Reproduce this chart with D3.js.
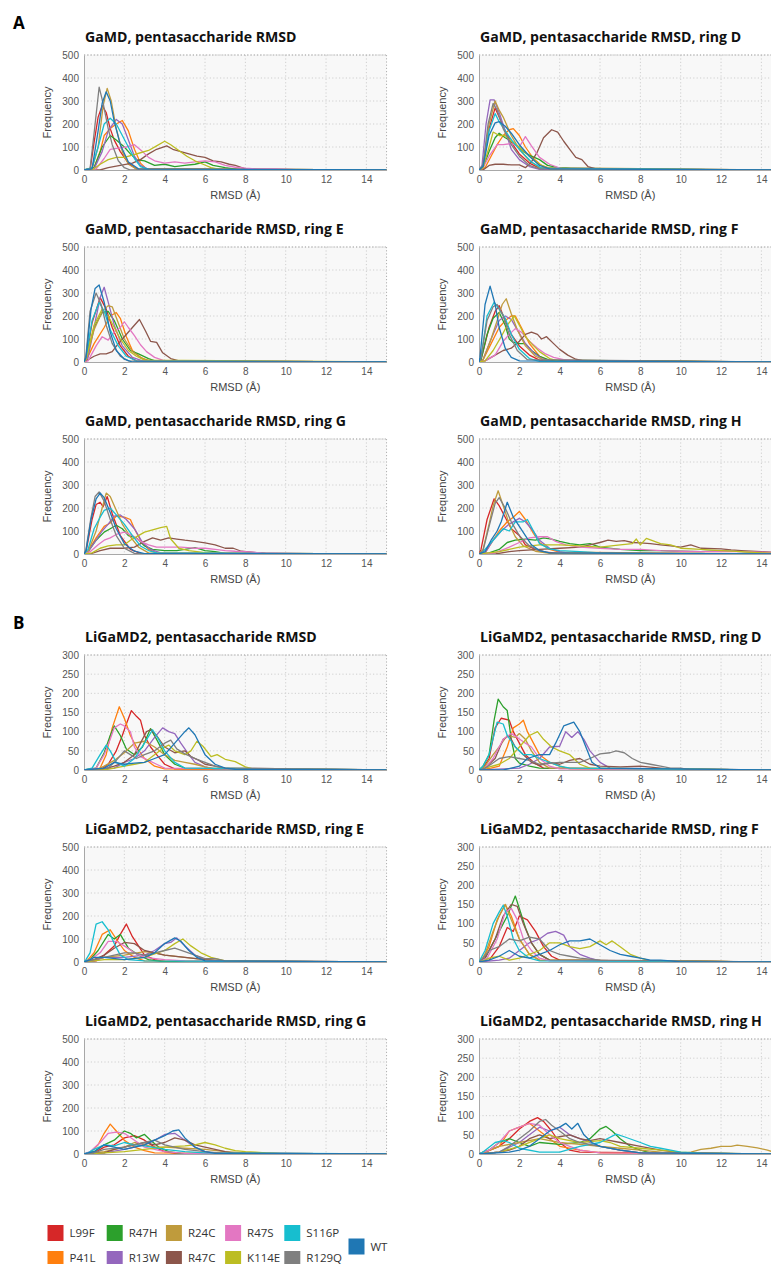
<!DOCTYPE html>
<html><head><meta charset="utf-8">
<script src="https://cdn.jsdelivr.net/npm/d3@7"></script>
<style>
body{margin:0;background:#fff;overflow:hidden}
svg text{font-family:"Liberation Sans",Arial,sans-serif}
</style></head>
<body><svg id="c" width="771" height="1264"></svg>
<script>
// ---------- DATA ----------
const seriesNames = ["L99F","P41L","R47H","R13W","R24C","R47C","R47S","K114E","S116P","R129Q","WT"];
const seriesColors = ["#d62728","#ff7f0e","#2ca02c","#9467bd","#bf9b3c","#8c564b","#e377c2","#bcbd22","#17becf","#7f7f7f","#1f77b4"];
const xTicks = [0,2,4,6,8,10,12,14];
const yTicks500 = [0,100,200,300,400,500];
const yTicks300 = [0,50,100,150,200,250,300];
const panelTitles = [
 "GaMD, pentasaccharide RMSD","GaMD, pentasaccharide RMSD, ring D",
 "GaMD, pentasaccharide RMSD, ring E","GaMD, pentasaccharide RMSD, ring F",
 "GaMD, pentasaccharide RMSD, ring G","GaMD, pentasaccharide RMSD, ring H",
 "LiGaMD2, pentasaccharide RMSD","LiGaMD2, pentasaccharide RMSD, ring D",
 "LiGaMD2, pentasaccharide RMSD, ring E","LiGaMD2, pentasaccharide RMSD, ring F",
 "LiGaMD2, pentasaccharide RMSD, ring G","LiGaMD2, pentasaccharide RMSD, ring H"];
const panelYMax = [500,500,500,500,500,500,300,300,500,300,500,300];

// each series: flat list of RMSD, frequency pairs
const gamdAll = {
 L99F:[0.3,0,0.5,120,0.7,230,0.9,280,1.1,250,1.3,180,1.5,130,1.8,80,2.2,30,2.6,5],
 P41L:[0.5,10,0.8,80,1.0,150,1.3,180,1.6,200,1.9,215,2.2,170,2.5,90,2.8,30,3.1,5],
 R47H:[0.5,10,0.9,100,1.3,150,1.6,130,2.0,100,2.3,70,2.6,45,3.0,40,3.5,20,4.0,25,4.5,15,5.0,20,5.5,25,6.0,35,6.4,20,7.0,10,7.6,3],
 R13W:[0.5,5,0.9,80,1.2,170,1.6,220,1.9,200,2.2,130,2.5,60,2.8,20,3.2,3],
 R24C:[0.4,5,0.7,100,0.95,280,1.15,355,1.35,300,1.6,180,1.9,80,2.2,25,2.6,5],
 R47C:[0.8,0,1.2,10,1.8,20,2.4,30,2.8,45,3.2,70,3.6,90,4.1,105,4.4,90,4.8,80,5.2,70,5.6,60,6.0,55,6.4,40,6.8,35,7.2,25,7.5,20,8.0,5,8.6,2],
 R47S:[0.6,5,1.0,50,1.3,90,1.7,95,2.1,100,2.5,110,2.9,80,3.2,55,3.5,40,4.0,30,4.5,35,5.0,30,5.5,35,6.0,40,6.5,35,7.0,20,7.5,12,8.0,8,8.5,5,9.5,5,10.5,2],
 K114E:[0.4,0,0.8,25,1.2,45,1.6,55,2.0,55,2.4,65,2.8,75,3.2,85,3.6,105,4.0,125,4.3,110,4.7,85,5.1,60,5.5,40,5.9,25,6.3,10,6.8,2],
 S116P:[0.4,10,0.7,100,1.0,200,1.3,225,1.6,200,1.9,150,2.2,100,2.5,50,2.8,15,3.2,3],
 R129Q:[0.3,5,0.5,160,0.75,360,0.95,290,1.2,180,1.4,110,1.7,40,2.0,10,2.3,0],
 WT:[0.4,5,0.7,170,0.9,290,1.1,340,1.3,300,1.5,210,1.8,110,2.2,35,2.7,5]
};
const gamdD = {
 L99F:[0.2,20,0.5,180,0.8,270,1.0,230,1.3,170,1.6,120,2.0,70,2.5,30,3.0,8],
 P41L:[0.3,10,0.6,60,0.9,110,1.2,150,1.5,175,1.7,180,2.0,150,2.3,100,2.7,50,3.1,20,3.6,5],
 R47H:[0.2,10,0.5,80,0.8,140,1.0,160,1.3,140,1.7,120,2.2,80,2.6,60,3.0,45,3.4,20,3.9,10,4.3,10,4.8,2],
 R13W:[0.15,20,0.35,200,0.55,305,0.75,305,1.0,250,1.3,170,1.6,90,2.0,45,2.5,15,3.0,3],
 R24C:[0.2,20,0.5,200,0.8,300,1.0,260,1.2,230,1.6,150,2.0,90,2.5,40,3.0,10],
 R47C:[0.2,0,0.5,20,0.8,25,1.2,25,1.6,22,2.0,22,2.3,10,2.6,35,2.9,80,3.2,140,3.6,175,3.9,165,4.2,125,4.5,90,4.8,55,5.1,45,5.4,15,5.8,5,6.1,0],
 R47S:[0.2,10,0.5,60,0.9,110,1.2,110,1.6,115,2.0,100,2.3,145,2.6,105,3.0,55,3.5,25,4.0,8,4.5,0],
 K114E:[0.2,10,0.5,100,0.7,165,1.0,150,1.3,150,1.6,125,2.0,100,2.5,60,3.0,25,3.5,5],
 S116P:[0.2,20,0.5,170,0.8,245,1.0,210,1.3,170,1.7,120,2.1,80,2.6,35,3.1,8],
 R129Q:[0.2,20,0.45,200,0.7,290,0.9,260,1.2,180,1.6,110,2.0,60,2.5,20,3.0,5],
 WT:[0.2,15,0.5,150,0.8,205,1.0,210,1.3,190,1.6,160,2.0,110,2.5,60,3.0,20,3.5,5]
};
const gamdE = {
 L99F:[0.1,10,0.4,170,0.8,280,1.1,230,1.4,150,1.8,70,2.2,25,2.6,5],
 P41L:[0.1,5,0.5,80,1.0,150,1.3,200,1.6,215,1.8,190,2.1,110,2.4,50,2.8,20,3.2,5],
 R47H:[0.1,10,0.5,150,0.9,215,1.2,220,1.5,180,1.9,100,2.3,50,2.7,35,3.2,15,3.6,3],
 R13W:[0.2,20,0.5,150,0.8,280,1.0,325,1.2,260,1.5,160,1.9,70,2.4,20,2.9,5],
 R24C:[0.1,10,0.5,140,0.9,220,1.2,245,1.4,240,1.7,170,2.0,100,2.4,45,2.9,15,3.4,3],
 R47C:[0.1,5,0.5,25,0.8,35,1.1,35,1.4,45,1.7,80,2.0,110,2.4,150,2.75,185,3.05,135,3.3,90,3.6,85,3.9,40,4.3,15,4.8,3],
 R47S:[0.2,5,0.6,70,0.9,110,1.2,95,1.5,130,1.8,150,2.0,175,2.2,150,2.5,115,2.8,75,3.1,45,3.5,20,4.0,5],
 K114E:[0.1,10,0.5,160,0.9,230,1.2,200,1.5,150,1.8,100,2.2,50,2.6,25,3.0,8],
 S116P:[0.1,20,0.4,180,0.75,260,1.0,220,1.3,140,1.7,70,2.1,25,2.6,5],
 R129Q:[0.1,30,0.3,220,0.6,300,0.85,250,1.1,160,1.4,80,1.8,25,2.2,5],
 WT:[0.1,20,0.35,230,0.55,320,0.75,335,1.0,260,1.3,130,1.6,50,2.0,12,2.4,0]
};
const gamdF = {
 L99F:[0.1,10,0.5,150,0.8,220,1.0,245,1.3,180,1.6,120,2.0,70,2.5,30,3.0,8],
 P41L:[0.2,10,0.6,80,1.0,150,1.3,180,1.6,200,1.8,200,2.1,150,2.5,80,3.0,25,3.5,5],
 R47H:[0.1,10,0.4,120,0.7,190,1.0,215,1.3,160,1.5,100,1.7,85,2.0,80,2.3,80,2.6,50,3.0,25,3.5,8],
 R13W:[0.2,10,0.6,100,1.0,180,1.3,200,1.6,185,1.9,140,2.3,80,2.7,40,3.1,15,3.6,3],
 R24C:[0.2,10,0.6,100,0.9,180,1.15,250,1.35,275,1.6,210,1.9,140,2.3,70,2.8,25,3.3,5],
 R47C:[0.3,5,0.8,30,1.2,50,1.6,60,2.0,90,2.3,120,2.6,130,2.9,120,3.1,100,3.35,110,3.7,80,4.0,55,4.4,30,4.8,12,5.3,3],
 R47S:[0.3,5,0.8,30,1.2,90,1.5,120,1.8,145,2.1,130,2.5,90,2.9,60,3.3,35,3.7,20,4.2,10,4.8,5,5.5,2],
 K114E:[0.3,5,0.7,50,1.1,110,1.4,160,1.75,200,2.0,160,2.3,110,2.6,80,3.0,45,3.5,15,4.0,3],
 S116P:[0.1,20,0.4,200,0.75,260,1.0,230,1.3,190,1.6,120,2.0,55,2.5,15,3.0,3],
 R129Q:[0.1,20,0.4,180,0.7,240,0.9,250,1.2,200,1.5,120,1.9,50,2.4,10],
 WT:[0.05,20,0.3,250,0.55,330,0.8,250,1.0,150,1.3,60,1.6,20,2.0,5]
};
const gamdG = {
 L99F:[0.1,10,0.4,150,0.6,215,0.8,225,0.95,205,1.15,250,1.4,175,1.8,80,2.3,20,2.8,3],
 P41L:[0.2,10,0.6,70,1.0,120,1.3,135,1.6,165,2.0,160,2.3,150,2.5,110,2.8,60,3.2,20,3.6,5],
 R47H:[0.2,10,0.6,60,1.0,95,1.3,110,1.6,125,1.9,110,2.2,80,2.6,70,3.0,35,3.4,20,4.0,15,4.6,15,5.0,20,5.5,28,6.0,15,6.5,10,7.0,3],
 R13W:[0.2,10,0.6,60,0.9,100,1.2,130,1.5,165,1.8,170,2.1,150,2.5,110,2.9,50,3.3,20,3.8,5],
 R24C:[0.2,10,0.6,100,0.9,200,1.1,265,1.3,250,1.6,190,1.9,130,2.3,75,2.7,30,3.2,5],
 R47C:[0.3,0,0.8,15,1.3,25,2.0,25,2.5,30,3.0,55,3.4,70,3.8,60,4.2,70,4.6,65,5.0,60,5.5,55,6.0,48,6.5,40,7.0,25,7.4,25,7.8,12,8.3,8,9.0,3],
 R47S:[0.3,10,0.7,40,1.0,60,1.3,70,1.6,85,2.0,95,2.4,80,2.8,55,3.2,40,3.6,30,4.2,30,4.8,30,5.5,25,6.0,25,6.5,20,7.0,15,7.5,12,8.0,10,8.8,5,10.0,3,11.0,2],
 K114E:[0.4,5,0.8,25,1.2,35,1.6,40,2.0,40,2.3,60,2.7,80,3.0,95,3.4,105,3.8,115,4.1,120,4.3,65,4.7,25,5.2,15,5.8,8,6.3,2],
 S116P:[0.2,20,0.5,110,0.8,160,1.0,190,1.3,200,1.6,170,2.0,130,2.4,80,2.8,35,3.2,15,3.6,5],
 R129Q:[0.1,20,0.35,160,0.55,250,0.75,270,1.0,230,1.3,150,1.6,80,2.0,25,2.5,3],
 WT:[0.1,15,0.35,150,0.6,240,0.8,265,1.0,245,1.3,180,1.6,110,2.0,45,2.5,12,3.0,2]
};
const gamdH = {
 L99F:[0.1,20,0.4,150,0.75,240,1.0,210,1.3,160,1.6,110,2.0,80,2.3,40,2.8,20,3.3,8,4.0,3],
 P41L:[0.3,5,0.7,60,1.0,100,1.4,140,1.7,160,2.0,185,2.3,150,2.7,90,3.0,50,3.5,20,4.0,8],
 R47H:[0.5,5,1.0,20,1.4,50,1.8,60,2.3,65,2.8,60,3.2,70,3.6,65,4.0,55,4.5,45,5.0,40,5.5,45,6.0,30,7.0,20,8.0,15,9.0,15,10.0,12,11.0,10,12.0,15,13.0,10,14.0,5,15,2],
 R13W:[0.3,5,0.7,60,1.1,100,1.5,130,2.0,155,2.3,140,2.6,110,3.0,60,3.5,25,4.0,10,4.5,3],
 R24C:[0.2,20,0.5,130,0.7,210,0.95,275,1.2,210,1.5,130,1.8,75,2.2,35,2.8,12,3.5,3],
 R47C:[0.8,0,1.5,10,2.0,15,3.0,20,4.0,25,5.0,30,5.5,40,6.0,50,6.4,60,6.8,55,7.2,58,7.6,50,8.0,48,8.5,45,9.0,40,9.5,35,10.0,30,10.5,40,11.0,25,12.0,22,12.5,18,13.0,15,14.0,10,15,5],
 R47S:[0.8,5,1.5,30,2.0,50,2.5,70,3.0,75,3.4,75,3.8,55,4.3,40,5.0,30,6.0,25,7.0,20,8.0,20,9.0,15,10.0,12,11.0,10,12.0,12,13.0,10,14.0,8,15,5],
 K114E:[0.5,5,1.0,10,2.0,30,3.0,40,4.0,40,5.0,35,6.0,30,7.0,40,7.6,45,7.8,65,8.0,40,8.3,68,8.7,55,9.0,45,9.5,40,10.0,25,11.0,20,12.0,15,13.0,10,14.0,5,15,3],
 S116P:[0.2,10,0.6,50,1.0,90,1.2,110,1.5,100,1.8,140,2.2,140,2.4,150,2.7,100,3.0,45,3.5,22,4.0,15,5.0,10,6.0,5,7.0,3],
 R129Q:[0.2,15,0.5,120,0.8,220,1.0,245,1.3,200,1.6,140,2.0,80,2.5,35,3.0,15,3.5,5],
 WT:[0.3,10,0.6,60,0.9,100,1.1,140,1.4,225,1.7,160,2.0,120,2.3,80,2.6,40,3.0,15,3.5,5]
};
const ligAll = {
 L99F:[0.8,0,1.2,15,1.6,50,1.9,90,2.1,120,2.35,155,2.6,140,2.8,130,3.0,90,3.3,60,3.6,40,4.0,15,4.5,3],
 P41L:[0.8,5,1.1,40,1.4,110,1.75,165,2.0,135,2.3,90,2.6,60,3.0,30,3.5,10,4.0,3],
 R47H:[0.6,5,1.0,45,1.3,90,1.5,115,1.8,90,2.1,55,2.5,40,2.9,60,3.3,108,3.6,80,4.0,40,4.5,15,5.0,5],
 R13W:[1.5,5,2.0,20,2.5,30,3.0,50,3.5,85,3.9,110,4.2,100,4.5,95,4.8,70,5.2,40,5.5,20,6.0,8,6.5,2],
 R24C:[0.6,0,1.0,10,1.5,25,2.0,45,2.5,70,3.0,75,3.5,60,4.0,40,4.5,25,5.0,20,5.5,15,6.0,8,6.5,3],
 R47C:[0.8,0,1.5,10,2.0,20,2.5,40,2.8,70,3.1,100,3.3,105,3.6,90,4.0,60,4.5,45,5.0,50,5.3,35,5.7,25,6.0,15,6.5,10,7.0,5],
 R47S:[0.6,5,1.0,40,1.3,80,1.5,110,1.8,120,2.0,115,2.3,100,2.5,60,2.8,35,3.2,25,3.6,15,4.0,5],
 K114E:[1.0,0,1.5,5,2.0,10,2.5,15,3.0,20,3.5,40,4.0,60,4.2,65,4.5,50,5.0,40,5.3,50,5.6,75,5.9,62,6.3,35,6.6,40,7.0,28,7.5,22,8.0,8,8.4,2],
 S116P:[0.4,5,0.8,40,1.1,65,1.3,50,1.6,20,2.0,10,2.5,30,3.0,70,3.4,105,3.7,80,4.0,50,4.5,20,5.0,5],
 R129Q:[1.2,5,1.6,25,2.0,50,2.3,40,2.6,30,3.0,40,3.5,50,4.0,70,4.3,78,4.6,55,5.0,42,5.5,30,6.0,20,6.5,10,7.0,5],
 WT:[1.0,5,1.5,20,2.0,15,2.5,18,3.0,20,3.5,30,4.0,40,4.5,70,5.0,100,5.2,110,5.5,92,6.0,40,6.5,15,7.0,5,7.5,2]
};
const ligD = {
 L99F:[0.2,5,0.5,30,0.8,110,1.1,135,1.5,130,1.7,100,2.0,70,2.3,40,2.7,20,3.2,5],
 P41L:[0.6,5,1.0,10,1.4,60,1.7,110,2.0,120,2.2,130,2.4,100,2.7,70,3.0,40,3.5,20,4.0,10,4.5,3],
 R47H:[0.2,10,0.5,40,0.75,130,0.95,185,1.2,165,1.4,155,1.6,80,1.8,30,2.0,18,2.5,10,3.0,5],
 R13W:[2.0,5,2.5,15,3.0,30,3.5,60,4.0,62,4.3,100,4.6,85,4.9,100,5.2,80,5.5,50,6.0,20,6.5,5],
 R24C:[0.3,10,0.7,40,1.0,60,1.4,90,1.8,85,2.0,95,2.3,80,2.6,50,3.0,20,3.5,5],
 R47C:[0.3,5,0.8,30,1.2,80,1.5,90,1.8,60,2.2,40,2.6,20,3.0,12,3.5,20,4.0,15,4.5,25,5.0,30,5.5,15,6.0,10,7.0,8,8.0,10,9.0,5,9.5,2],
 R47S:[0.3,5,0.7,30,1.2,80,1.6,95,1.9,85,2.3,70,2.6,60,3.0,30,3.5,10,4.0,3],
 K114E:[0.3,5,1.0,15,1.5,30,2.0,60,2.5,90,2.9,100,3.2,80,3.6,60,4.0,50,4.5,40,5.0,15,5.5,5],
 S116P:[0.2,10,0.5,40,0.9,125,1.2,120,1.4,90,1.8,60,2.2,40,2.6,40,3.0,30,3.5,20,4.0,10,4.5,5],
 R129Q:[0.3,5,0.6,15,1.0,30,1.5,35,2.0,30,2.5,25,3.0,15,4.0,20,5.0,20,5.5,30,6.0,42,6.5,45,6.8,50,7.2,45,7.6,30,8.0,20,8.5,15,9.0,10,9.5,5,10.0,5,10.5,0],
 WT:[1.2,0,1.6,5,2.0,10,2.4,30,3.0,40,3.5,40,3.8,70,4.2,115,4.7,125,5.0,100,5.3,60,5.6,20,6.0,5]
};
const ligE = {
 L99F:[0.6,5,1.0,30,1.5,70,1.8,120,2.1,165,2.4,110,2.7,70,3.0,30,3.5,10,4.0,3],
 P41L:[0.2,10,0.5,40,0.9,120,1.3,140,1.6,100,2.0,50,2.5,20,3.0,5],
 R47H:[0.3,10,0.7,50,1.2,120,1.5,100,1.8,120,2.2,60,2.7,30,3.2,10,3.8,3],
 R13W:[0.5,5,1.0,20,2.0,20,3.0,30,3.5,50,4.0,80,4.3,85,4.6,105,5.0,70,5.5,30,6.0,10,6.5,3],
 R24C:[0.5,10,1.0,20,2.0,30,3.0,45,3.5,40,4.0,30,5.0,20,6.0,10,7.0,5,8.0,5,8.5,0],
 R47C:[0.5,10,1.0,30,1.5,60,2.0,85,2.5,80,3.0,50,3.5,40,4.0,30,5.0,20,6.0,10,7.0,5],
 R47S:[0.3,10,0.8,40,1.2,90,1.6,90,2.0,70,2.5,40,3.0,20,4.0,10,5.0,5],
 K114E:[0.5,5,1.0,10,2.0,10,3.0,20,4.0,50,4.5,80,4.9,100,5.3,70,5.8,40,6.3,20,7.0,5],
 S116P:[0.1,10,0.3,40,0.6,165,0.9,175,1.2,140,1.5,80,1.8,30,2.2,10,3.0,5],
 R129Q:[0.5,10,1.0,20,2.0,40,2.5,40,3.0,30,3.5,40,4.0,50,4.5,60,5.0,45,5.5,30,6.0,15,6.5,15,7.0,5],
 WT:[0.3,10,0.5,20,1.0,20,2.0,10,3.0,20,3.5,40,4.0,80,4.5,105,4.8,90,5.2,50,5.6,20,6.0,5]
};
const ligF = {
 L99F:[0.5,5,1.0,40,1.4,90,1.7,80,2.0,120,2.4,110,2.8,80,3.2,40,3.6,15,4.0,5],
 P41L:[0.2,10,0.5,40,0.9,110,1.3,150,1.6,120,2.0,60,2.5,20,3.0,5],
 R47H:[0.3,10,0.5,30,1.0,80,1.4,120,1.8,172,2.0,140,2.3,90,2.6,50,3.0,20,3.5,5],
 R13W:[1.0,5,1.5,10,2.0,30,2.5,50,3.0,60,3.4,75,3.8,80,4.2,70,4.5,40,5.0,20,5.5,10,6.0,3],
 R24C:[0.1,5,0.3,20,0.7,80,1.0,120,1.3,150,1.6,110,2.0,60,2.5,20,3.0,5],
 R47C:[0.3,10,0.8,60,1.2,120,1.6,150,1.9,145,2.2,100,2.6,50,3.0,20,3.5,5],
 R47S:[0.4,10,0.9,60,1.3,130,1.6,140,1.9,110,2.2,60,2.6,30,3.0,10,3.5,3],
 K114E:[0.3,5,0.5,10,1.0,15,1.5,5,2.0,10,3.0,30,3.5,50,4.0,50,4.5,40,5.0,35,5.5,40,6.0,55,6.3,45,6.6,55,7.0,40,7.5,20,8.0,10,8.5,3],
 S116P:[0.1,10,0.3,30,0.7,100,1.0,130,1.2,148,1.4,120,1.7,60,2.0,30,2.5,10,3.0,3],
 R129Q:[0.2,10,0.5,30,1.0,40,1.5,60,2.0,55,2.5,65,3.0,60,3.5,30,4.0,20,4.5,15,5.0,10,6.0,5],
 WT:[0.5,5,1.0,15,1.5,30,2.0,15,2.5,10,3.0,20,3.5,30,4.0,45,4.5,55,5.0,55,5.5,60,6.0,45,6.5,30,7.0,20,7.5,15,8.0,10,8.5,5,9.0,5,9.5,3,10.0,0]
};
const ligG = {
 L99F:[0.5,5,1.0,30,1.5,40,2.0,70,2.5,80,3.0,60,3.5,30,4.0,10,4.5,3],
 P41L:[0.3,5,0.7,40,1.0,90,1.3,130,1.6,100,2.0,60,2.5,30,3.0,15,3.5,5],
 R47H:[0.5,10,1.0,40,1.5,60,2.0,100,2.3,90,2.6,70,3.0,85,3.3,60,3.7,30,4.2,10,4.8,3],
 R13W:[1.0,5,2.0,20,3.0,40,3.5,60,4.0,85,4.5,90,5.0,60,5.5,30,6.0,10,6.5,3],
 R24C:[0.5,5,1.0,10,2.0,30,2.5,50,3.0,40,3.5,30,4.0,30,5.0,25,6.0,20,7.0,10,8.0,5,9.0,2],
 R47C:[1.0,5,1.5,20,2.0,30,3.0,50,3.5,40,4.0,50,4.5,70,5.0,60,5.5,40,6.0,30,6.5,20,7.0,10,7.5,3],
 R47S:[0.3,10,0.8,50,1.2,90,1.6,95,2.0,90,2.5,60,3.0,30,4.0,10,5.0,3],
 K114E:[0.5,2,1.0,5,2.0,10,3.0,20,4.0,30,5.0,35,5.5,40,6.0,50,6.5,40,7.0,25,7.5,15,8.0,10,8.5,8,9.0,5,9.5,3,10.0,0],
 S116P:[0.2,5,0.5,20,1.0,40,1.5,35,2.0,50,2.5,40,3.0,35,4.0,20,5.0,10,6.0,5],
 R129Q:[0.5,5,1.0,20,2.0,30,2.5,40,3.0,50,3.5,60,4.0,40,5.0,20,6.0,10,7.0,3],
 WT:[0.2,5,0.5,10,1.0,40,1.5,30,2.0,20,2.5,30,3.0,40,3.5,60,4.0,80,4.4,100,4.7,105,5.0,70,5.5,30,6.0,10,6.5,3]
};
const ligH = {
 L99F:[0.3,5,1.0,20,1.5,40,2.0,65,2.5,85,2.9,95,3.2,85,3.6,60,4.0,30,4.5,10,5.0,5],
 P41L:[0.3,5,1.0,20,1.5,60,2.0,70,2.5,80,3.0,60,3.5,40,4.0,20,5.0,10,6.0,3],
 R47H:[0.2,5,0.5,10,1.0,30,1.5,40,2.0,30,2.5,20,3.0,30,4.0,25,5.0,30,5.5,40,6.0,65,6.3,72,6.6,60,7.0,40,7.5,20,8.0,10,8.5,3],
 R13W:[1.0,5,2.0,30,2.5,50,3.0,70,3.5,60,4.0,70,4.5,50,5.0,40,5.5,30,6.0,20,7.0,10,8.0,3],
 R24C:[0.2,5,0.5,10,1.0,20,2.0,30,3.0,40,4.0,30,5.0,25,6.0,20,7.0,15,8.0,10,9.0,5,10.0,0,10.5,5,11.0,12,11.5,15,12.0,20,12.5,20,12.8,23,13.3,20,13.8,16,14.3,10,14.6,5,15,3],
 R47C:[1.0,5,1.5,10,2.0,20,2.5,40,3.0,50,3.5,40,4.0,45,4.5,50,5.0,40,5.5,35,6.0,40,7.0,30,8.0,20,9.0,10,10.0,3],
 R47S:[0.5,10,1.0,30,1.5,60,2.0,70,2.5,80,3.0,75,3.5,50,4.0,30,4.5,20,5.0,10,6.0,3],
 K114E:[1.0,5,2.0,20,3.0,40,3.5,50,4.0,40,5.0,30,6.0,35,6.5,30,7.0,20,8.0,15,9.0,10,10.0,5,11.0,2],
 S116P:[0.2,5,0.8,30,1.2,35,1.5,30,2.0,15,3.0,5,4.0,5,5.0,20,6.0,30,6.8,52,7.2,45,8.0,30,8.5,20,9.0,15,9.5,10,10.0,5,11.0,2],
 R129Q:[1.0,5,1.5,20,2.0,40,2.5,60,3.0,85,3.3,90,3.6,75,4.0,60,4.5,40,5.0,30,6.0,20,7.0,10,8.0,3],
 WT:[1.5,5,2.0,10,2.5,20,3.0,40,3.5,60,4.0,70,4.3,80,4.6,65,4.9,80,5.2,50,5.6,30,6.0,20,7.0,10,8.0,3]
};
const panelData = [gamdAll,gamdD,gamdE,gamdF,gamdG,gamdH,ligAll,ligD,ligE,ligF,ligG,ligH];

// ---------- LAYOUT ----------
const svg = d3.select("#c");
const colX = [84, 479];
const rowTop = [55, 247, 439, 655, 847, 1039];
const plotW = 15*20.17, plotH = 115;

svg.append("text").attr("x",13).attr("y",29).attr("font-size",17).attr("font-weight","bold")
  .style("font-family","Open Sans, sans-serif").text("A");
svg.append("text").attr("x",13).attr("y",629).attr("font-size",17).attr("font-weight","bold")
  .style("font-family","Open Sans, sans-serif").text("B");

panelData.forEach((data, i) => {
  const col = i % 2, row = Math.floor(i/2);
  const x0 = colX[col], y0 = rowTop[row];
  const ymax = panelYMax[i];
  const yTicks = ymax === 500 ? yTicks500 : yTicks300;
  const x = d3.scaleLinear().domain([0,15]).range([x0, x0+plotW]);
  const y = d3.scaleLinear().domain([0,ymax]).range([y0+plotH, y0]);
  const g = svg.append("g");

  g.append("text").attr("x", x0+1).attr("y", y0-13).attr("font-size",14.1).attr("font-weight","bold")
    .style("font-family","Open Sans, sans-serif").attr("fill","#111").text(panelTitles[i]);

  g.append("rect").attr("x",x0).attr("y",y0).attr("width",plotW).attr("height",plotH).attr("fill","#f8f8f8");
  // grid
  g.selectAll(".gx").data(xTicks.slice(1)).join("line")
    .attr("x1",d=>x(d)).attr("x2",d=>x(d)).attr("y1",y0).attr("y2",y0+plotH)
    .attr("stroke","#cfcfcf").attr("stroke-dasharray","1.2,2.2");
  g.selectAll(".gy").data(yTicks.slice(1)).join("line")
    .attr("x1",x0).attr("x2",x0+plotW).attr("y1",d=>y(d)).attr("y2",d=>y(d))
    .attr("stroke","#cfcfcf").attr("stroke-dasharray","1.2,2.2");
  // frame
  g.append("line").attr("x1",x0+plotW).attr("x2",x0+plotW).attr("y1",y0).attr("y2",y0+plotH)
    .attr("stroke","#b0b0b0").attr("stroke-dasharray","1.2,2");

  // axes
  const ax = g.append("g").attr("transform",`translate(0,${y0+plotH})`)
    .call(d3.axisBottom(x).tickValues(xTicks).tickSize(0).tickPadding(6));
  const ay = g.append("g").attr("transform",`translate(${x0},0)`)
    .call(d3.axisLeft(y).tickValues(yTicks).tickSize(0).tickPadding(5));
  [ax,ay].forEach(a=>{
    a.select(".domain").attr("stroke","#a8a8a8").attr("stroke-width",1);
    a.selectAll("text").attr("font-size",10).attr("fill","#555").style("font-family","Liberation Sans, Arial, sans-serif");
  });
  g.append("line").attr("x1",x0).attr("x2",x0+plotW).attr("y1",y0).attr("y2",y0)
    .attr("stroke","#a8a8a8").attr("stroke-dasharray","1.2,2");

  // clip
  const cid = "clip"+i;
  svg.append("clipPath").attr("id",cid).append("rect")
    .attr("x",x0).attr("y",y0-2).attr("width",plotW).attr("height",plotH+2);
  const line = d3.line().x(d=>x(d[0])).y(d=>y(d[1]));
  const lg = g.append("g").attr("clip-path",`url(#${cid})`);
  seriesNames.forEach((name, k) => {
    const flat = data[name];
    const pts = [];
    for (let j=0;j<flat.length;j+=2) pts.push([flat[j], flat[j+1]]);
    if (pts[0][0] > 0) pts.unshift([0,0]);
    if (pts[pts.length-1][0] < 15) pts.push([15,0]);
    lg.append("path").datum(pts).attr("d",line).attr("fill","none")
      .attr("stroke",seriesColors[k]).attr("stroke-width",1.3).attr("stroke-linejoin","round");
  });

  g.append("text").attr("x",(x0+x0+plotW)/2).attr("y",y0+plotH+29).attr("text-anchor","middle")
    .attr("font-size",11).attr("fill","#444").text("RMSD (Å)");
  g.append("text").attr("transform",`translate(${x0-33},${y0+plotH/2}) rotate(-90)`)
    .attr("text-anchor","middle").attr("font-size",11).attr("fill","#444").text("Frequency");
});

// ---------- LEGEND ----------
const legendPos = [
  [0,0],[0,1],[1,0],[1,1],[2,0],[2,1],[3,0],[3,1],[4,0],[4,1]
];
const legOrder = ["L99F","P41L","R47H","R13W","R24C","R47C","R47S","K114E","S116P","R129Q"];
const leg = svg.append("g");
legOrder.forEach((name,k)=>{
  const [c,r] = legendPos[k];
  const lx = 47.5 + c*59.2, ly = 1225 + r*26;
  const ci = seriesNames.indexOf(name);
  leg.append("rect").attr("x",lx).attr("y",ly).attr("width",16).attr("height",Math.min(16, 1264-ly)).attr("fill",seriesColors[ci]);
  leg.append("text").attr("x",lx+22).attr("y",r ? 1261.5 : ly+12).attr("font-size",11.5).attr("fill","#333")
    .style("font-family","Open Sans, sans-serif").text(name);
});
leg.append("rect").attr("x",348.5).attr("y",1238.5).attr("width",16).attr("height",16).attr("fill",seriesColors[10]);
leg.append("text").attr("x",370.5).attr("y",1250.5).attr("font-size",11.5).attr("fill","#333")
  .style("font-family","Open Sans, sans-serif").text("WT");
</script></body></html>
